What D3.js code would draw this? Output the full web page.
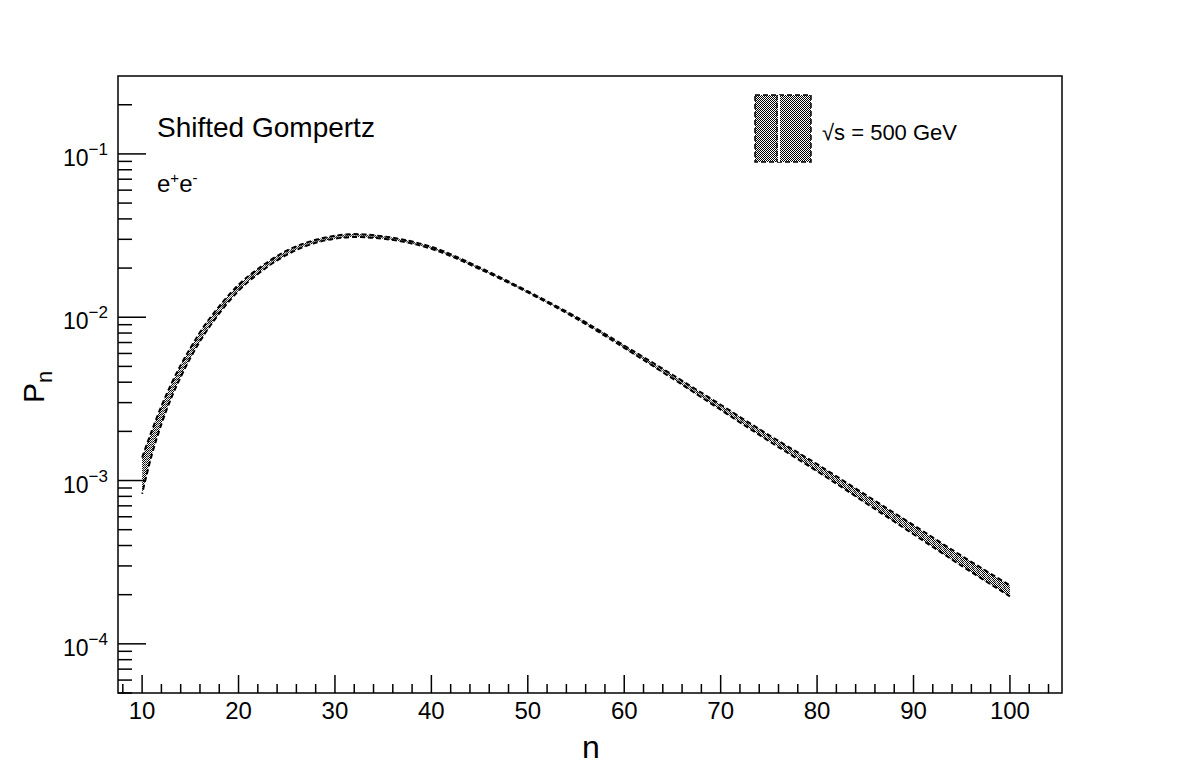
<!DOCTYPE html>
<html>
<head>
<meta charset="utf-8">
<script src="https://cdn.jsdelivr.net/npm/d3@7"></script>
<style>
  html, body { margin: 0; padding: 0; background: #fff; }
  svg { display: block; font-family: "Liberation Sans", Arial, Helvetica, sans-serif; }
</style>
</head>
<body>
<svg id="chart" width="1182" height="771"></svg>
<script>
// ---- data ----
const nValues = [10, 11, 12, 13, 14, 15, 16, 18, 20, 22, 25, 28, 30, 32, 35, 40, 45, 50, 55, 60, 65, 70, 75, 80, 85, 90, 95, 100];
const pCentral = [1.072e-3, 1.698e-3, 2.512e-3, 3.508e-3, 4.677e-3, 6.026e-3, 7.586e-3, 0.01109, 0.01514, 0.01905, 0.02483, 0.02917, 0.03090, 0.03162, 0.03076, 0.02661, 0.01995, 0.01430, 0.00995, 6.600e-3, 4.330e-3, 2.810e-3, 1.820e-3, 1.199e-3, 7.745e-4, 5.000e-4, 3.221e-4, 2.109e-4];
const pUpper = [1.383e-3, 2.012e-3, 2.854e-3, 3.873e-3, 5.089e-3, 6.466e-3, 8.087e-3, 0.01166, 0.01579, 0.01974, 0.02555, 0.02978, 0.03155, 0.03228, 0.03128, 0.02698, 0.02017, 0.01442, 0.01006, 6.712e-3, 4.443e-3, 2.911e-3, 1.898e-3, 1.260e-3, 8.194e-4, 5.330e-4, 3.456e-4, 2.280e-4];
const pLower = [8.31e-4, 1.433e-3, 2.211e-3, 3.178e-3, 4.299e-3, 5.616e-3, 7.116e-3, 0.01055, 0.01452, 0.01839, 0.02413, 0.02857, 0.03026, 0.03097, 0.03025, 0.02624, 0.01973, 0.01418, 0.00984, 6.490e-3, 4.220e-3, 2.712e-3, 1.745e-3, 1.141e-3, 7.320e-4, 4.690e-4, 3.002e-4, 1.951e-4];
const xMajorTicks = [10, 20, 30, 40, 50, 60, 70, 80, 90, 100];
const xMinorTicks = [8, 12, 14, 16, 18, 22, 24, 26, 28, 32, 34, 36, 38, 42, 44, 46, 48, 52, 54, 56, 58, 62, 64, 66, 68, 72, 74, 76, 78, 82, 84, 86, 88, 92, 94, 96, 98, 102, 104];
const yMajorTicks = [1e-4, 1e-3, 1e-2, 1e-1];
const yMajorExponents = ["\u22124", "\u22123", "\u22122", "\u22121"];
const yMinorMantissas = [2, 3, 4, 5, 6, 7, 8, 9];
const xDomain = [7.5, 105.4];
const yDomain = [5e-5, 0.3];
const titleText = "Shifted Gompertz";
const legendLabel = "\u221As = 500 GeV";

// ---- layout ----
const svg = d3.select("#chart");
const L = 118, R = 1062, T = 76, B = 693;
const x = d3.scaleLinear().domain(xDomain).range([L, R]);
const y = d3.scaleLog().domain(yDomain).range([B, T]);

// checker pattern
const defs = svg.append("defs");
const pat = defs.append("pattern").attr("id", "checker").attr("width", 2).attr("height", 2)
  .attr("patternUnits", "userSpaceOnUse");
pat.append("rect").attr("width", 2).attr("height", 2).attr("fill", "#fff");
pat.append("rect").attr("x", 0).attr("y", 0).attr("width", 1).attr("height", 1).attr("fill", "#000");
pat.append("rect").attr("x", 1).attr("y", 1).attr("width", 1).attr("height", 1).attr("fill", "#000");
defs.append("clipPath").attr("id", "frameclip").append("rect")
  .attr("x", L).attr("y", T).attr("width", R - L).attr("height", B - T);

const data = nValues.map((n, i) => ({ n, c: pCentral[i], u: pUpper[i], l: pLower[i] }));

const plot = svg.append("g").attr("clip-path", "url(#frameclip)");

// band
const area = d3.area().x(d => x(d.n)).y0(d => y(d.l)).y1(d => y(d.u)).curve(d3.curveMonotoneX);
plot.append("path").datum(data).attr("d", area).attr("fill", "url(#checker)").attr("stroke", "none");

const lineU = d3.line().x(d => x(d.n)).y(d => y(d.u)).curve(d3.curveMonotoneX);
const lineL = d3.line().x(d => x(d.n)).y(d => y(d.l)).curve(d3.curveMonotoneX);
const lineC = d3.line().x(d => x(d.n)).y(d => y(d.c)).curve(d3.curveMonotoneX);
plot.append("path").datum(data).attr("d", lineC).attr("fill", "none").attr("stroke", "#999").attr("stroke-width", 0.8);
plot.append("path").datum(data).attr("d", lineU).attr("fill", "none").attr("stroke", "#000")
  .attr("stroke-width", 2).attr("stroke-dasharray", "5,3");
plot.append("path").datum(data).attr("d", lineL).attr("fill", "none").attr("stroke", "#000")
  .attr("stroke-width", 2).attr("stroke-dasharray", "5,3").attr("stroke-dashoffset", 4);

// frame
svg.append("rect").attr("x", L).attr("y", T).attr("width", R - L).attr("height", B - T)
  .attr("fill", "none").attr("stroke", "#000").attr("stroke-width", 1.5);

// x ticks
const gx = svg.append("g");
gx.selectAll("line.maj").data(xMajorTicks).enter().append("line")
  .attr("x1", d => x(d)).attr("x2", d => x(d)).attr("y1", B).attr("y2", B - 18)
  .attr("stroke", "#000").attr("stroke-width", 1.5);
gx.selectAll("line.min").data(xMinorTicks).enter().append("line")
  .attr("x1", d => x(d)).attr("x2", d => x(d)).attr("y1", B).attr("y2", B - 9)
  .attr("stroke", "#000").attr("stroke-width", 1.5);
gx.selectAll("text").data(xMajorTicks).enter().append("text")
  .attr("x", d => x(d)).attr("y", 719).attr("text-anchor", "middle")
  .attr("font-size", 24).text(d => d);

// y ticks
const gy = svg.append("g");
const minorY = [];
[-5, -4, -3, -2, -1].forEach(e => yMinorMantissas.forEach(m => {
  const v = m * Math.pow(10, e);
  if (v >= yDomain[0] && v <= yDomain[1]) minorY.push(v);
}));
gy.selectAll("line.maj").data(yMajorTicks).enter().append("line")
  .attr("x1", L).attr("x2", L + 28).attr("y1", d => y(d)).attr("y2", d => y(d))
  .attr("stroke", "#000").attr("stroke-width", 1.5);
gy.selectAll("line.min").data(minorY).enter().append("line")
  .attr("x1", L).attr("x2", L + 14).attr("y1", d => y(d)).attr("y2", d => y(d))
  .attr("stroke", "#000").attr("stroke-width", 1.5);
const yl = gy.selectAll("text").data(yMajorTicks).enter().append("text")
  .attr("x", 108).attr("y", d => y(d) + 12).attr("text-anchor", "end").attr("font-size", 23);
yl.append("tspan").text("10");
yl.append("tspan").attr("font-size", 17).attr("dy", -11).text((d, i) => yMajorExponents[i]);

// axis titles
svg.append("text").attr("x", 591).attr("y", 758).attr("text-anchor", "middle")
  .attr("font-size", 32).text("n");
const yt = svg.append("text").attr("transform", "translate(44,403) rotate(-90)")
  .attr("font-size", 30);
yt.append("tspan").text("P");
yt.append("tspan").attr("font-size", 22).attr("dy", 8).text("n");

// annotations
svg.append("text").attr("x", 157).attr("y", 137).attr("font-size", 28).text(titleText);
const ee = svg.append("text").attr("x", 157).attr("y", 192).attr("font-size", 24);
ee.append("tspan").text("e");
ee.append("tspan").attr("font-size", 15).attr("dy", -9).text("+");
ee.append("tspan").attr("font-size", 24).attr("dy", 9).text("e");
ee.append("tspan").attr("font-size", 15).attr("dy", -9).text("-");

// legend
const lg = svg.append("g");
lg.append("rect").attr("x", 755).attr("y", 95).attr("width", 56).attr("height", 67)
  .attr("fill", "url(#checker)").attr("stroke", "#000").attr("stroke-width", 1.5)
  .attr("stroke-dasharray", "5,3");
lg.append("line").attr("x1", 779).attr("x2", 779).attr("y1", 95).attr("y2", 162)
  .attr("stroke", "#fff").attr("stroke-width", 2);
lg.append("line").attr("x1", 777).attr("x2", 777).attr("y1", 95).attr("y2", 162)
  .attr("stroke", "#000").attr("stroke-width", 1.2).attr("stroke-dasharray", "5,3");
lg.append("text").attr("x", 822).attr("y", 140).attr("font-size", 22).text(legendLabel);
</script>
</body>
</html>
